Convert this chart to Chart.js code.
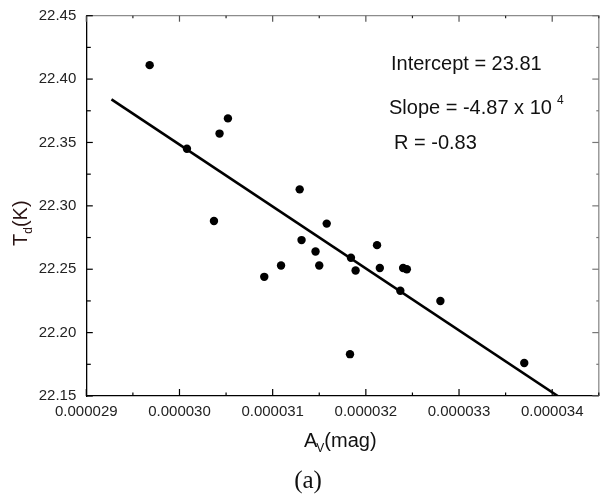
<!DOCTYPE html>
<html><head><meta charset="utf-8">
<script src="https://cdn.jsdelivr.net/npm/chart.js@4/dist/chart.umd.min.js"></script>
<style>
html,body{margin:0;padding:0;background:#fff;overflow:hidden}
#wrap{width:600px;height:495px;overflow:hidden;position:relative}
canvas{display:block}
</style></head><body>
<div id="wrap"><canvas id="c" width="603" height="495"></canvas></div>
<script>
// ---- data ----
const avMag = [0.00002968, 0.00003008, 0.00003043, 0.00003052, 0.00003037, 0.00003129,
               0.00003131, 0.00003158, 0.00003091, 0.00003109, 0.00003146, 0.00003150,
               0.00003184, 0.00003189, 0.00003212, 0.00003215, 0.00003240, 0.00003244,
               0.00003237, 0.00003280, 0.00003183, 0.00003370];
const tdK   = [22.411, 22.345, 22.357, 22.369, 22.288, 22.313,
               22.273, 22.286, 22.244, 22.253, 22.264, 22.253,
               22.259, 22.249, 22.269, 22.251, 22.251, 22.250,
               22.233, 22.225, 22.183, 22.176];
const fitAv = [0.00002927, 0.00003406];
const fitTd = [22.384, 22.150];

const xMin = 0.000029, xMax = 0.0000345, xMajor = 0.000001;
const yMin = 22.15, yMax = 22.45, yMajor = 0.05;

const xTitle = ['A', 'V', '(mag)'];
const yTitle = ['T', 'd', '(K)'];
const noteIntercept = 'Intercept = 23.81';
const noteSlope = 'Slope = -4.87 x 10';
const noteSlopeExp = '4';
const noteR = 'R = -0.83';
const caption = '(a)';

const SANS = '"Liberation Sans", Arial, sans-serif';
const SERIF = '"Liberation Serif", "Times New Roman", serif';

function isMajor(v, step){ const r = v/step; return Math.abs(r - Math.round(r)) < 1e-6; }

const framePlugin = {
  id: 'frame',
  afterDatasetsDraw(chart){
    const {ctx, chartArea:a, scales:{x, y}} = chart;
    ctx.save();
    ctx.lineCap = 'butt';
    // top / right borders (gray)
    ctx.strokeStyle = '#8c8c8c'; ctx.lineWidth = 1.3;
    ctx.beginPath();
    ctx.moveTo(a.left, a.top); ctx.lineTo(a.right, a.top); ctx.lineTo(a.right, a.bottom);
    ctx.stroke();
    x.ticks.forEach(t => {
      const px = x.getPixelForValue(t.value);
      const maj = isMajor(t.value, xMajor);
      ctx.strokeStyle = '#000'; ctx.lineWidth = 1.2;
      ctx.beginPath(); ctx.moveTo(px, a.bottom); ctx.lineTo(px, a.bottom - (maj ? 7 : 3.5)); ctx.stroke();
      ctx.strokeStyle = maj ? '#555' : '#222';
      ctx.beginPath(); ctx.moveTo(px, a.top); ctx.lineTo(px, a.top + (maj ? 6 : 2.5)); ctx.stroke();
    });
    y.ticks.forEach(t => {
      const py = y.getPixelForValue(t.value);
      const maj = isMajor(t.value, yMajor);
      ctx.strokeStyle = '#000'; ctx.lineWidth = 1.2;
      ctx.beginPath(); ctx.moveTo(a.left, py); ctx.lineTo(a.left + (maj ? 6.5 : 4.5), py); ctx.stroke();
      ctx.strokeStyle = '#777';
      ctx.beginPath(); ctx.moveTo(a.right, py); ctx.lineTo(a.right - (maj ? 6.5 : 2.5), py); ctx.stroke();
    });
    ctx.restore();
  },
  afterDraw(chart){
    const {ctx} = chart;
    ctx.save();
    ctx.fillStyle = '#111';
    ctx.textBaseline = 'alphabetic';
    // x title
    let xx = 304, by = 447;
    ctx.font = '20px ' + SANS; ctx.textAlign = 'left';
    ctx.fillText(xTitle[0], xx, by); xx += ctx.measureText(xTitle[0]).width;
    ctx.font = '12px ' + SANS; ctx.fillText(xTitle[1], xx - 1, by + 5); xx += ctx.measureText(xTitle[1]).width - 1;
    ctx.font = '20px ' + SANS; ctx.fillText(xTitle[2], xx, by);
    // y title (rotated)
    ctx.save();
    ctx.translate(27, 246); ctx.rotate(-Math.PI/2);
    ctx.fillStyle = '#2a1414';
    let yy = 0;
    ctx.font = '20px ' + SANS; ctx.fillText(yTitle[0], yy, 0); yy += ctx.measureText(yTitle[0]).width;
    ctx.font = '12px ' + SANS; ctx.fillText(yTitle[1], yy, 5); yy += ctx.measureText(yTitle[1]).width;
    ctx.font = '20px ' + SANS; ctx.fillText(yTitle[2], yy, 0);
    ctx.restore();
    // annotations
    ctx.fillStyle = '#111';
    ctx.font = '20px ' + SANS;
    ctx.fillText(noteIntercept, 391, 70);
    ctx.fillText(noteSlope, 389, 114);
    const w = ctx.measureText(noteSlope).width;
    ctx.font = '12px ' + SANS; ctx.fillText(noteSlopeExp, 389 + w + 5, 104);
    ctx.font = '20px ' + SANS; ctx.fillText(noteR, 394, 149);
    // caption
    ctx.font = '25px ' + SERIF; ctx.textAlign = 'center';
    ctx.fillText(caption, 308, 488);
    ctx.restore();
  }
};

new Chart(document.getElementById('c'), {
  data: {
    datasets: [
      { type: 'scatter', data: avMag.map((v, i) => ({x: v, y: tdK[i]})),
        pointRadius: 4.2, pointBackgroundColor: '#000', pointBorderWidth: 0, pointHoverRadius: 4.2 },
      { type: 'line', data: fitAv.map((v, i) => ({x: v, y: fitTd[i]})),
        borderColor: '#000', borderWidth: 2.6, pointRadius: 0, fill: false, tension: 0 }
    ]
  },
  options: {
    responsive: false, animation: false, devicePixelRatio: 1,
    layout: { padding: { left: 0, top: 15.7, right: 1.4, bottom: 0 } },
    plugins: { legend: { display: false }, tooltip: { enabled: false } },
    scales: {
      x: { type: 'linear', position: 'bottom', min: xMin, max: xMax,
        grid: { display: false, drawTicks: false },
        border: { display: true, color: '#000', width: 1.3 },
        ticks: { stepSize: xMajor/2, autoSkip: false, maxRotation: 0, padding: 7,
          color: '#222', font: { family: SANS, size: 15 },
          callback: v => isMajor(v, xMajor) ? v.toFixed(6) : '' },
        afterFit: s => { s.height = 99; s.paddingLeft = 0; s.paddingRight = 0; } },
      y: { type: 'linear', position: 'left', min: yMin, max: yMax,
        grid: { display: false, drawTicks: false },
        border: { display: true, color: '#000', width: 1.3 },
        ticks: { stepSize: yMajor/2, autoSkip: false, padding: 10,
          color: '#222', font: { family: SANS, size: 15 },
          callback: v => isMajor(v, yMajor) ? v.toFixed(2) : '' },
        afterFit: s => { s.width = 86.3; s.paddingTop = 0; s.paddingBottom = 0; } }
    }
  },
  plugins: [framePlugin]
});
</script>
</body></html>
